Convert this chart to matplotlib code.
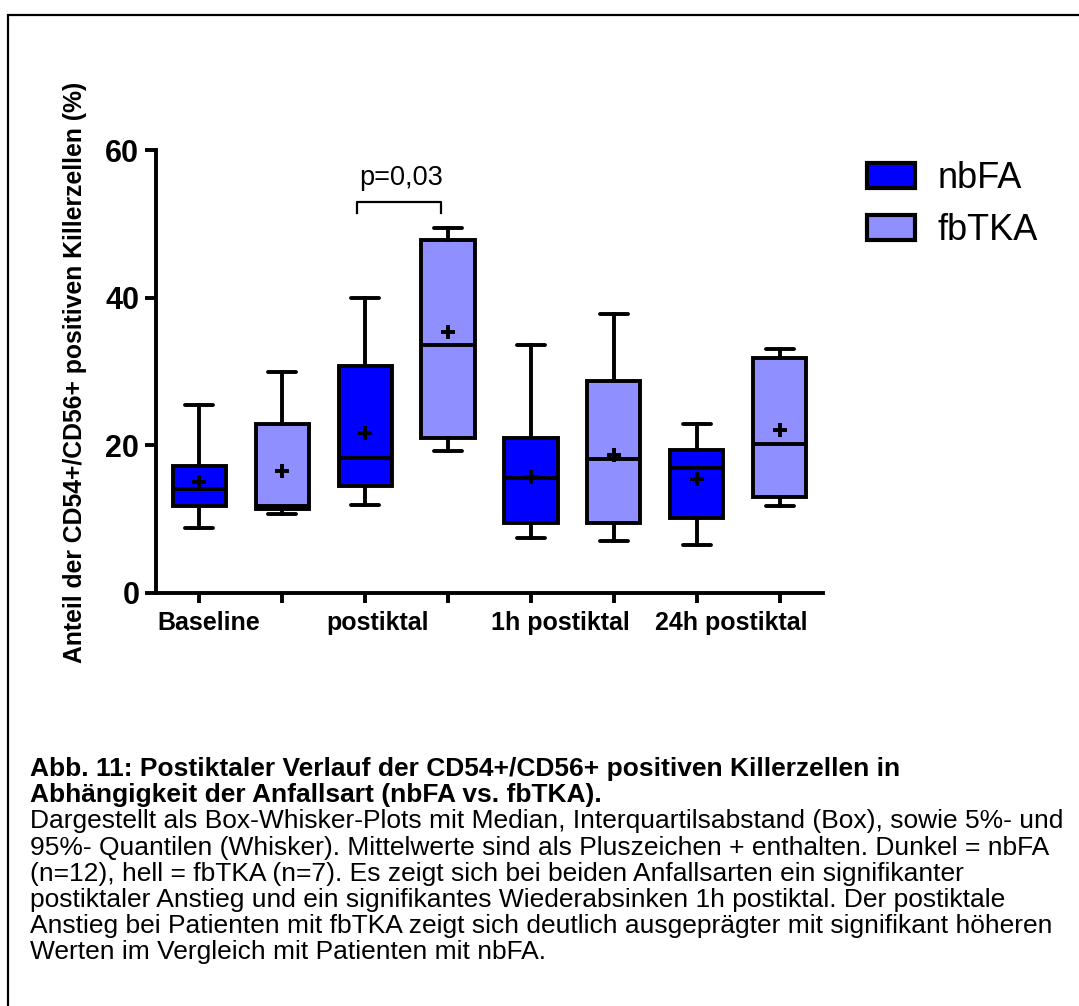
import matplotlib
matplotlib.use("Agg")
import matplotlib.pyplot as plt
from matplotlib import font_manager as fm
from matplotlib.patches import Patch, Rectangle

# Werte der Box-Whisker-Plots (Anteil in %)
groups = ["Baseline", "postiktal", "1h postiktal", "24h postiktal"]

nbfa_low = [8.8, 11.9, 7.4, 6.5]
nbfa_q1 = [11.8, 14.4, 9.5, 10.1]
nbfa_med = [14.1, 18.2, 15.6, 16.9]
nbfa_q3 = [17.2, 30.7, 20.9, 19.4]
nbfa_high = [25.4, 40.0, 33.6, 22.8]
nbfa_mean = [15.0, 21.6, 15.7, 15.4]

fbtka_low = [10.6, 19.2, 7.0, 11.7]
fbtka_q1 = [11.3, 20.9, 9.4, 13.0]
fbtka_med = [11.8, 33.6, 18.1, 20.1]
fbtka_q3 = [22.9, 47.8, 28.7, 31.8]
fbtka_high = [29.9, 49.4, 37.8, 33.0]
fbtka_mean = [16.5, 35.3, 18.7, 22.0]

p_text = "p=0,03"

caption_bold = [
    "Abb. 11: Postiktaler Verlauf der CD54+/CD56+ positiven Killerzellen in",
    "Abhängigkeit der Anfallsart (nbFA vs. fbTKA).",
]
caption_text = [
    "Dargestellt als Box-Whisker-Plots mit Median, Interquartilsabstand (Box), sowie 5%- und",
    "95%- Quantilen (Whisker). Mittelwerte sind als Pluszeichen + enthalten. Dunkel = nbFA",
    "(n=12), hell = fbTKA (n=7). Es zeigt sich bei beiden Anfallsarten ein signifikanter",
    "postiktaler Anstieg und ein signifikantes Wiederabsinken 1h postiktal. Der postiktale",
    "Anstieg bei Patienten mit fbTKA zeigt sich deutlich ausgeprägter mit signifikant höheren",
    "Werten im Vergleich mit Patienten mit nbFA.",
]

dark = "#0000FF"
light = "#8F8FFF"

names = {f.name for f in fm.fontManager.ttflist}
narrow = "Liberation Sans Narrow" if "Liberation Sans Narrow" in names else "Liberation Sans"
plt.rcParams["font.family"] = ["Liberation Sans", "DejaVu Sans"]

W, H = 1079, 1006
fig = plt.figure(figsize=(W / 100, H / 100), dpi=100)
ax = fig.add_axes([156 / W, 1 - 592.7 / H, 667 / W, 442.7 / H])


def make_stats(low, q1, med, q3, high, mean):
    return [dict(whislo=a, q1=b, med=c, q3=d, whishi=e, mean=f, fliers=[])
            for a, b, c, d, e, f in zip(low, q1, med, q3, high, mean)]


lw = 2.8
common = dict(widths=0.64, capwidths=0.34, patch_artist=True, showmeans=True,
              manage_ticks=False,
              whiskerprops=dict(linewidth=lw, color="black"),
              capprops=dict(linewidth=lw, color="black", solid_capstyle="round"),
              medianprops=dict(linewidth=lw, color="black"),
              meanprops=dict(marker="+", markersize=9.5, markeredgewidth=2.8,
                             markeredgecolor="black"))

pos_dark = [1, 3, 5, 7]
pos_light = [2, 4, 6, 8]
ax.bxp(make_stats(nbfa_low, nbfa_q1, nbfa_med, nbfa_q3, nbfa_high, nbfa_mean),
       positions=pos_dark,
       boxprops=dict(facecolor=dark, edgecolor="black", linewidth=lw), **common)
ax.bxp(make_stats(fbtka_low, fbtka_q1, fbtka_med, fbtka_q3, fbtka_high, fbtka_mean),
       positions=pos_light,
       boxprops=dict(facecolor=light, edgecolor="black", linewidth=lw), **common)

# Signifikanzklammer postiktal
ax.plot([2.9, 2.9, 3.92, 3.92], [51.5, 53, 53, 51.5], color="black", lw=1.6)
ax.text(3.43, 55.2, p_text, ha="center", va="baseline", fontsize=19.5)

ax.set_xlim(0.48, 8.52)
ax.set_ylim(0, 60)
for s in ["top", "right"]:
    ax.spines[s].set_visible(False)
for s in ["left", "bottom"]:
    ax.spines[s].set_linewidth(2.8)

ax.set_yticks([0, 20, 40, 60])
ax.set_yticklabels(["0", "20", "40", "60"], fontfamily=narrow,
                   fontweight="bold", fontsize=22)
ax.tick_params(axis="y", length=8, width=2.8, pad=4)

ax.set_xticks(range(1, 9))
ax.set_xticklabels([])
ax.tick_params(axis="x", which="major", length=7, width=2.8)
ax.set_xticks([1.12, 3.15, 5.36, 7.41], minor=True)
ax.set_xticklabels(groups, minor=True, fontfamily=narrow,
                   fontweight="bold", fontsize=18)
ax.tick_params(axis="x", which="minor", length=0, pad=13)

ax.set_ylabel("Anteil der CD54+/CD56+ positiven Killerzellen (%)",
              fontweight="bold", fontsize=17.8, va="center")
ax.yaxis.set_label_coords(-(156 - 75) / 667, (592.7 - 372) / 442.7)

handles = [Patch(facecolor=dark, edgecolor="black", linewidth=3),
           Patch(facecolor=light, edgecolor="black", linewidth=3)]
ax.legend(handles, ["nbFA", "fbTKA"], loc="upper left",
          bbox_to_anchor=(1.066, 0.975), borderaxespad=0, borderpad=0,
          frameon=False, fontsize=26, handlelength=1.33, handleheight=0.7,
          handletextpad=0.62, labelspacing=0.48)

# Bildunterschrift
y0 = 776
step = 26.2
for i, line in enumerate(caption_bold + caption_text):
    fig.text(30 / W, 1 - (y0 + i * step) / H, line, ha="left", va="baseline",
             fontsize=19, fontweight="bold" if i < len(caption_bold) else "normal")

# Rahmen um die Abbildung
fig.add_artist(Rectangle((8 / W, -0.05), 1.2, 1.05 - 15 / H, fill=False,
                         edgecolor="black", linewidth=1.6,
                         transform=fig.transFigure))

fig.savefig("out.png", dpi=100)
